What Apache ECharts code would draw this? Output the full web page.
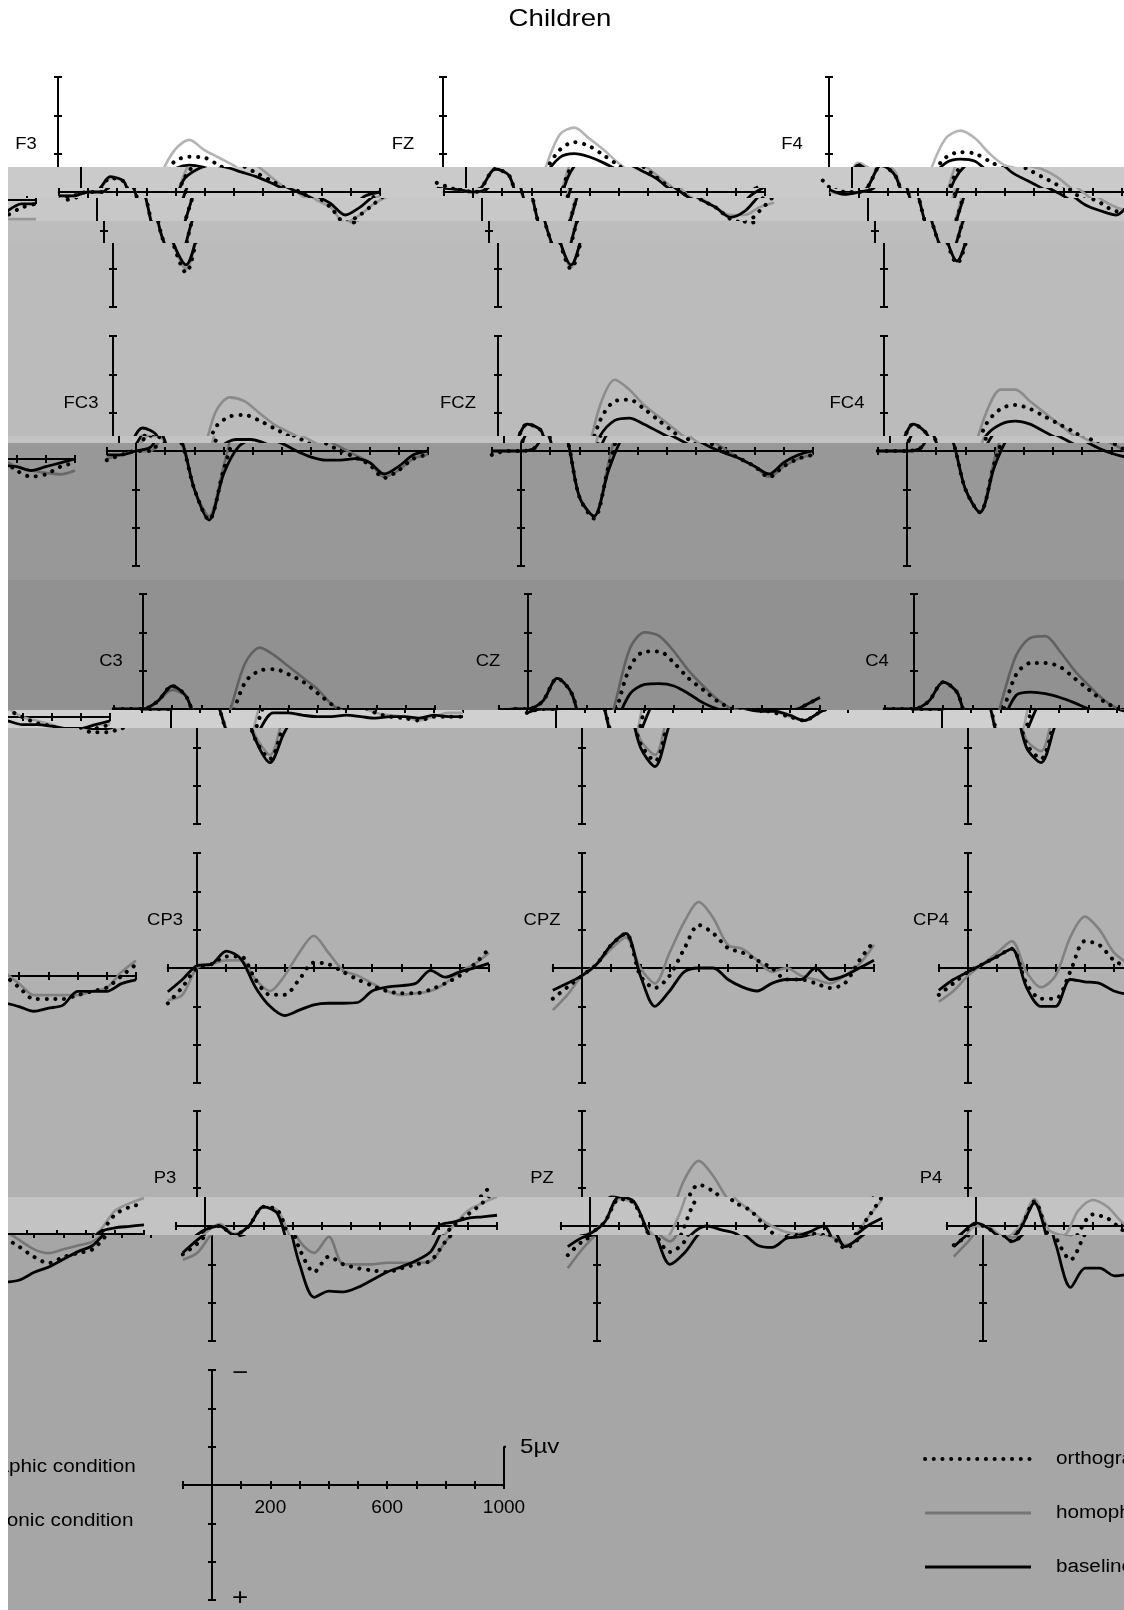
<!DOCTYPE html>
<html>
<head>
<meta charset="utf-8">
<script src="https://cdn.jsdelivr.net/npm/echarts@6/dist/echarts.min.js"></script>
<style>
  html, body { margin: 0; padding: 0; background: #fff; }
  #page { position: relative; width: 1124px; height: 1610px; overflow: hidden; background: #fff; }
  .band { position: absolute; left: 0; width: 1124px; overflow: hidden; }
  .chart { position: absolute; top: 0; width: 1124px; }
  #edge { position: absolute; left: 0; top: 0; width: 8px; height: 1610px; background: #fff; z-index: 5; }
</style>
</head>
<body>
<div id="page"><div id="edge"></div></div>
<script>
// time points (ms) and amplitudes (µV, negative plotted up)
const times = [-100, -50, 0, 50, 100, 150, 200, 250, 300, 350, 400, 450, 500, 550, 600, 650, 700, 750, 800, 850, 900, 950, 1000];

const orthoF3 = [1, 0.5, 0, 0, -1.8, -1.2, 6, 10.5, 4, -1.5, -4, -4.6, -4.5, -3.5, -2.5, -1.5, -0.5, 0.5, 2, 4, 3, 1.5, 0];
const homoF3  = [0.5, 0.5, 0, 0, -1.8, -1.2, 6, 10, 4, -2, -5.5, -6.8, -5.5, -4.5, -3.5, -2, -0.5, 1, 2, 4, 3, 1.5, 0.5];
const baseF3  = [0.5, 0.5, 0, 0, -2, -1.2, 6, 9.5, 4, -1.5, -3, -3.5, -3.2, -2.6, -2, -1.2, -0.3, 0.5, 1.5, 3, 2, 0.5, 0];

const orthoFZ = [-1.2, -0.5, 0, -0.5, -3, -2, 5, 10, 4, -2.5, -5.5, -6.5, -6, -4.8, -3.5, -2, -0.5, 1, 2, 3.5, 4, 2.5, 0.5];
const homoFZ  = [-0.5, -0.3, 0, -0.5, -3, -2, 5, 9.8, 3.5, -3, -7.5, -8.4, -7, -5.5, -3.8, -2.3, -0.8, 0.8, 2, 3, 3, 2, 1.4];
const baseFZ  = [-0.5, -0.3, 0, -0.5, -3, -2, 5, 9.5, 4, -2, -4.5, -5, -4.6, -3.8, -2.8, -1.8, -0.3, 1, 2, 3.3, 2.5, 0.5, -0.7];

const orthoF4 = [-1.5, 0, 0, -0.5, -3.5, -2, 4.5, 9.3, 4, -2, -4.5, -5.2, -5, -4, -3, -2, -1, 0.5, 1.5, 2.5, 2, 1, 0.5];
const homoF4  = [0, 0.3, 0, -0.5, -3.8, -2.5, 4.5, 9, 3.5, -3, -7, -8, -7, -5, -3.5, -3, -2, -0.5, 1, 2, 2.5, 2.5, 2.5];
const baseF4  = [-0.3, 0.3, 0, -0.5, -3.5, -2, 4.5, 9, 4, -1.5, -3.8, -4.3, -4, -2.5, -1.5, -0.5, 0.5, 1.8, 2.5, 3, 1.5, 0.5, 0.5];

const orthoFC3 = [1.2, 0.5, 0, 0, -2, -1.5, 5, 9, 2.5, -3, -4.5, -4.7, -4, -3, -2, -1, 0, 0.8, 1.8, 3.5, 2.5, 1, 0.5];
const homoFC3  = [1, 0.5, 0, 0, -2, -1.5, 5, 8.5, 2, -5, -7, -6.5, -5, -3.5, -2.5, -1.5, -0.5, 0.5, 1.5, 3.4, 2.5, 1, 0.5];
const baseFC3  = [0.5, 0.5, 0, -0.5, -3, -2, 5, 9, 3, -0.5, -1.5, -1.5, -1, 0, 0.8, 1.2, 1.2, 1, 1.5, 3, 2, 0.5, 0];

const orthoFCZ = [0.5, 0, 0, -0.5, -3.5, -2.5, 6, 8.8, 2, -4, -6.5, -6.7, -5.5, -4, -2.5, -1, 0, 1, 2, 3.4, 2, 1, 0.5];
const homoFCZ  = [0, 0, 0, -0.5, -3.5, -2.5, 6, 8.5, 1.5, -6, -9.3, -8, -6, -4.5, -3, -1.5, -0.2, 1, 2, 3.4, 2, 1, 0.5];
const baseFCZ  = [0, 0, 0, -0.5, -3.5, -2.5, 6, 8.5, 2.5, -2, -4, -4.3, -3.5, -2.5, -1.5, -0.5, 0.3, 1, 2, 3, 1.5, 0.5, 0];

const orthoFC4 = [0, 0, 0, -0.5, -3.5, -2, 5, 8, 1.5, -3.5, -5.5, -6, -5.5, -4.5, -3.5, -2.5, -1.2, 0, 1.5, 2.3, 2, 1, 0.5];
const homoFC4  = [0, 0, 0, -0.5, -3.5, -2, 5, 8, 1, -5, -8, -8, -6.5, -5, -3.5, -2, -1, 0, 1, 1.5, 1.8, 2, 1.5];
const baseFC4  = [0, 0, 0, -0.5, -3.5, -2, 5, 8, 2, -2, -3.5, -3.9, -3.5, -2.5, -1.5, -0.5, 0.3, 0.8, 1, 1.5, 1, 0.5, 0];

const orthoC3 = [0, 0, 0, -1, -3, -1.5, 4, 6.5, 1.5, -3.5, -5, -5.2, -4.5, -3.5, -2, -0.5, 0.5, 1, 1.2, 1.5, 1, 1, 1];
const homoC3  = [0, 0, 0, -1, -2.5, -1.5, 3.5, 6, 0, -6, -8, -7, -5.5, -4, -2.5, -0.5, 0.5, 0.8, 1, 1.5, 1, 0.5, 0.5];
const baseC3  = [0, 0, 0, -1, -3, -1.5, 4, 7, 3, 0.5, 0.5, 0.8, 1, 1, 0.8, 1, 1.2, 1, 1, 1.2, 0.8, 1, 1];

const orthoCZ = [0.5, 0, 0, -1, -4, -2, 4.5, 6.8, 0.5, -5.5, -7.5, -7.5, -6, -4, -2.5, -1, 0, 0.5, 1, 1.5, 0.5, -0.5, -1.5];
const homoCZ  = [0.5, 0, 0, -1, -4, -2, 4, 6, -1, -8, -10, -9.5, -7.5, -5, -3, -1.2, 0, 0.3, 1, 1.5, 0.5, -0.5, -1.5];
const baseCZ  = [0.5, 0, 0, -1, -4, -2, 5, 7.5, 2, -2, -3.2, -3.3, -3, -2, -0.8, 0, 0.3, 0.3, 0.8, 1.5, 0.5, -0.5, -1.5];

const orthoC4 = [0, 0, 0, -1, -3.5, -2, 4.5, 6.5, 1, -4.5, -6, -6, -5.5, -4, -2.5, -1, 0, 0.8, 1.2, 2, 2, 1.5, 1];
const homoC4  = [0, 0, 0, -1, -3.5, -2, 4, 5.5, -1, -7, -9.3, -9.5, -7.5, -5, -3, -1.2, 0, 0.5, 1, 1.5, 1.5, 1, 1];
const baseC4  = [0, 0, 0, -1, -3.5, -2, 5, 7, 2, -1.8, -2.2, -2, -1.5, -0.8, 0, 0.5, 1, 1, 1.2, 1.5, 1.5, 1, 0.5];

const orthoCP3 = [4.6, 2.5, 0, -0.5, -1.5, -1.5, 1.5, 3.5, 3.5, 1.5, -0.7, -0.5, 0.5, 1.5, 2.3, 3, 3.3, 3.3, 2.8, 2, 1, -0.5, -2.5];
const homoCP3  = [4.2, 3.5, 0, -0.5, -1, -1, 1.5, 3, 1, -2, -4.2, -2, 0.3, 1, 2, 3, 3.5, 3.3, 3, 2, 0.5, -0.5, -2];
const baseCP3  = [3.1, 1.5, -0.3, -0.5, -2.2, -1.2, 2.5, 5, 6.2, 5.5, 4.8, 4.6, 4.6, 4.5, 3, 2.5, 2.3, 2, 0.3, 1.2, 0.5, 0, -0.6];

const orthoCPZ = [4, 2.5, 1, -0.5, -3, -4.5, 1, 2.6, 1, -2.5, -5.6, -4.5, -2.6, -2, -1, 0, 1.5, 1.5, 2, 2.6, 2, -1, -3.5];
const homoCPZ  = [5.5, 3.5, 1, -0.5, -2.5, -4, 0, 2, -2, -6, -8.6, -6.5, -3, -2.5, -1, 0.5, 0, 1, 1.5, 2, 1, -0.5, -3];
const baseCPZ  = [2.9, 2, 1, -0.5, -3, -4.5, 1, 5, 3, 0.5, 0, 0, 1.5, 2.5, 3, 2, 1.5, 1.5, 0, 1.5, 1, 0, -1];

const orthoCP4 = [3.5, 2, 0.5, -0.5, -1.5, -2.5, 2, 4, 4, 0.5, -3.5, -3, -1, 0, 1.5, 3, 3, 3, 2.5, 2, 1.5, 0, -1.5];
const homoCP4  = [4.4, 3, 1, -0.5, -2, -3.5, 0.5, 2.5, 1, -4, -6.7, -5, -2, -0.5, 1, 2.5, 2.5, 2.5, 2.5, 2, 1.5, -0.5, -2];
const baseCP4  = [2.9, 1.5, 0.5, -0.5, -1.5, -2.5, 2.5, 5, 5, 1.5, 1.8, 2, 3, 3.5, 4, 4.6, 4.2, 3.8, 2, 2, 2, 1, 0.5];

const orthoP3 = [3.7, 2.3, 0.5, 0, 1.2, 0, -2.5, -2, 3, 6, 4, 5, 5.5, 5.8, 6, 5.5, 5, 4.5, 2, 0, -1.5, -3, -5];
const homoP3  = [4.4, 3.5, 1, -0.3, 1, 0, -2.5, -2, 2, 3.5, 1.4, 5, 5, 5, 4.8, 4.8, 4.8, 4.6, 2, 0, -2, -3, -3.8];
const baseP3  = [3.5, 1.8, 0.5, 0, 1.2, 0, -2.5, -1.5, 5, 9.3, 8.5, 8.6, 8, 7, 6, 5.3, 4.5, 3.3, 0, -0.5, -1, -1.2, -1.4];

const orthoPZ = [3.8, 2, 1, -0.5, -3.5, -3, 1, 3.4, 2, -2.5, -5.4, -4.5, -3, -2, 0, 1.4, 1.2, 1, 1.2, 2.9, 1.5, -1, -3.8];
const homoPZ  = [5.5, 3, 1, -0.5, -3.5, -3, 0.5, 2, -1, -6, -8.5, -6.5, -3.5, -2, -0.5, 0.5, 1, 1, 1.3, 2.5, 1.5, -1, -3.4];
const basePZ  = [2.7, 1.5, 1, -0.5, -3.8, -3.2, 1, 5, 3.5, 1, 0, 0.5, 1, 2.5, 2.8, 1.6, 1.4, 0.8, 0, 2.7, 1.5, 0, -1];

const orthoP4 = [2.5, 1.2, -0.3, 0.5, 2, 0.5, -3.2, 1.5, 4.4, 1, -1.5, -1, 0.5, 1.7, 3, 3.8, 3, 2.5, 2, 0, -2.5, -3.5, -4];
const homoP4  = [4, 2, 0, 0.3, 1.5, 0, -3.5, 0.5, 1.2, -2, -3.4, -2.5, -0.5, 0.8, 2, 2.5, 2, 1.5, 1, -0.5, -3, -4, -4.7];
const baseP4  = [2.7, 1, -0.4, 0.5, 2, 0.5, -3, 2.5, 8, 5.5, 5.5, 6.5, 6.3, 6, 5, 4.3, 3.3, 2.3, 1.5, -0.3, -0.8, -1, -1.2];

const scaleLabels = [200, 600, 1000];
const legendNames = ['orthographic condition', 'homophonic condition', 'baseline'];

// [name, orthographic, homophonic, baseline] in reading order
const panels = [
  ['F3', orthoF3, homoF3, baseF3], ['FZ', orthoFZ, homoFZ, baseFZ], ['F4', orthoF4, homoF4, baseF4],
  ['FC3', orthoFC3, homoFC3, baseFC3], ['FCZ', orthoFCZ, homoFCZ, baseFCZ], ['FC4', orthoFC4, homoFC4, baseFC4],
  ['C3', orthoC3, homoC3, baseC3], ['CZ', orthoCZ, homoCZ, baseCZ], ['C4', orthoC4, homoC4, baseC4],
  ['CP3', orthoCP3, homoCP3, baseCP3], ['CPZ', orthoCPZ, homoCPZ, baseCPZ], ['CP4', orthoCP4, homoCP4, baseCP4],
  ['P3', orthoP3, homoP3, baseP3], ['PZ', orthoPZ, homoPZ, basePZ], ['P4', orthoP4, homoP4, baseP4]
];

// layout of the figure before the scan got torn
const colAxisX = [58, 443, 829];
const colLabelX = [26, 403, 792];
const rowZeroY = [192, 451, 709, 968, 1226];
const legendZeroY = 1485;
const pxPerMs = 0.292;
const FONT = '"Liberation Sans", Arial, Helvetica, sans-serif';
const STRETCH = 1.15; // the printed figure is a bit wider than tall

// horizontal strips of the picture: top, bottom, shift to the right, background
const strips = [
  [0, 167, 0, '#ffffff'],
  [167, 188, 23, '#cacaca'],
  [188, 198, 30, '#cacaca'],
  [198, 221, 39, '#c8c8c8'],
  [221, 243, 46, '#bdbdbd'],
  [243, 436, 55, '#bbbbbb'],
  [436, 443, 61, '#c3c3c3'],
  [443, 580, 78, '#989898'],
  [580, 710, 85, '#919191'],
  [710, 728, 113, '#d0d0d0'],
  [728, 1197, 139, '#b1b1b1'],
  [1197, 1235, 147, '#c3c3c3'],
  [1235, 1610, 154, '#a6a6a6']
];

function greyOn(bg) {
  const v = parseInt(bg.slice(1, 3), 16);
  if (v > 240) return '#b4b4b4';
  const g = Math.max(0, v - 48).toString(16).padStart(2, '0');
  return '#' + g + g + g;
}

function buildOption(dy, grey) {
  const grid = [], xAxis = [], yAxis = [], series = [], elements = [];

  function addPanel(axisX, zeroY) {
    const g = grid.length;
    grid.push({
      left: axisX - 100 * pxPerMs, top: zeroY - 115 + dy, width: 1100 * pxPerMs, height: 230,
      outerBoundsMode: 'none', containLabel: false
    });
    ['bottom', 'top'].forEach((pos, k) => {
      xAxis.push({
        type: 'value', gridIndex: g, position: pos, min: -100, max: 1000, interval: 100,
        axisLine: { onZero: true, onZeroAxisIndex: 2 * g + k, lineStyle: { color: '#000', width: 2 } },
        axisTick: { show: true, length: 4, lineStyle: { color: '#000', width: 2 } },
        axisLabel: { show: false },
        splitLine: { show: false }
      });
    });
    ['left', 'right'].forEach((pos, k) => {
      yAxis.push({
        type: 'value', gridIndex: g, position: pos, inverse: true, min: -15, max: 15, interval: 5,
        axisLine: { onZero: true, onZeroAxisIndex: 2 * g + k, lineStyle: { color: '#000', width: 2 } },
        axisTick: { show: true, length: 4, lineStyle: { color: '#000', width: 2 } },
        axisLabel: { show: false },
        splitLine: { show: false }
      });
    });
    return g;
  }

  const pair = arr => times.map((t, i) => [t, arr[i]]);

  const txt = (text, x, y, font, align) => ({
    type: 'text', x: x, y: y + dy, scaleX: STRETCH, silent: true,
    style: { text: text, font: font, fill: '#000', align: align, verticalAlign: 'middle',
             textAlign: align, textVerticalAlign: 'middle' }
  });

  panels.forEach(([name, ortho, homo, base], i) => {
    const r = Math.floor(i / 3), c = i % 3;
    const g = addPanel(colAxisX[c], rowZeroY[r]);
    const common = { type: 'line', xAxisIndex: 2 * g, yAxisIndex: 2 * g, smooth: 0.3, symbol: 'none', silent: true };
    series.push(Object.assign({}, common, {
      name: 'homophonic', data: pair(homo), z: 2,
      lineStyle: { color: grey, width: 2.6 }
    }));
    series.push(Object.assign({}, common, {
      name: 'baseline', data: pair(base), z: 3,
      lineStyle: { color: '#000', width: 2.8 }
    }));
    series.push(Object.assign({}, common, {
      name: 'orthographic', data: pair(ortho), z: 4,
      lineStyle: { color: '#000', width: 4, type: [0.1, 8.6], cap: 'round' }
    }));
    elements.push(txt(name, colLabelX[c], rowZeroY[r] - 47, '16px ' + FONT, 'center'));
  });

  // scale panel with the 5µv bracket
  const lg = addPanel(colAxisX[0], legendZeroY);
  xAxis.push({
    type: 'value', gridIndex: lg, position: 'bottom', offset: -115, min: -100, max: 1000, interval: 100,
    axisLine: { show: false, onZero: false }, axisTick: { show: false }, splitLine: { show: false },
    axisLabel: {
      show: true, margin: 13, color: '#000', fontFamily: FONT, fontSize: 19,
      formatter: v => scaleLabels.includes(v) ? String(v) : ''
    }
  });
  series.push({
    type: 'line', xAxisIndex: 2 * lg, yAxisIndex: 2 * lg, symbol: 'none', clip: false, silent: true,
    data: [[1000, 0], [1000, -5], [1030, -5]], lineStyle: { color: '#000', width: 2 }
  });

  elements.push(txt('Children', 560, 19, '24px ' + FONT, 'center'));
  elements.push(txt('5µv', 366, 1447, '21px ' + FONT, 'left'));
  elements.push(txt('\u2212', 86, 1373, '24px ' + FONT, 'center'));
  elements.push(txt('+', 86, 1598, '24px ' + FONT, 'center'));

  const legendY = [1459, 1513, 1567];
  const legendStyles = [
    { stroke: '#000', lineWidth: 4, lineDash: [0.1, 8.6], lineCap: 'round' },
    { stroke: grey, lineWidth: 2.8 },
    { stroke: '#000', lineWidth: 3.2 }
  ];
  legendNames.forEach((label, k) => {
    elements.push({
      type: 'line', silent: true,
      shape: { x1: 771, y1: legendY[k] + dy, x2: 877, y2: legendY[k] + dy },
      style: legendStyles[k]
    });
    elements.push(txt(label, 902, legendY[k], '18px ' + FONT, 'left'));
  });

  return {
    animation: false,
    backgroundColor: 'transparent',
    grid: grid, xAxis: xAxis, yAxis: yAxis, series: series,
    graphic: { elements: elements }
  };
}

const page = document.getElementById('page');
strips.forEach(([y0, y1, shift, bg]) => {
  const h = y1 - y0;
  const band = document.createElement('div');
  band.className = 'band';
  band.style.top = y0 + 'px';
  band.style.height = h + 'px';
  band.style.background = bg;
  page.appendChild(band);
  const grey = greyOn(bg);
  // the part pushed past the right edge comes back on the left, one block lower
  const copies = shift ? [[shift, -y0], [shift - 1124, -y0 + 8]] : [[0, -y0]];
  copies.forEach(([left, dy]) => {
    const el = document.createElement('div');
    el.className = 'chart';
    el.style.left = left + 'px';
    el.style.height = h + 'px';
    band.appendChild(el);
    const chart = echarts.init(el, null, { renderer: 'canvas' });
    chart.setOption(buildOption(dy, grey));
  });
});
</script>
</body>
</html>
